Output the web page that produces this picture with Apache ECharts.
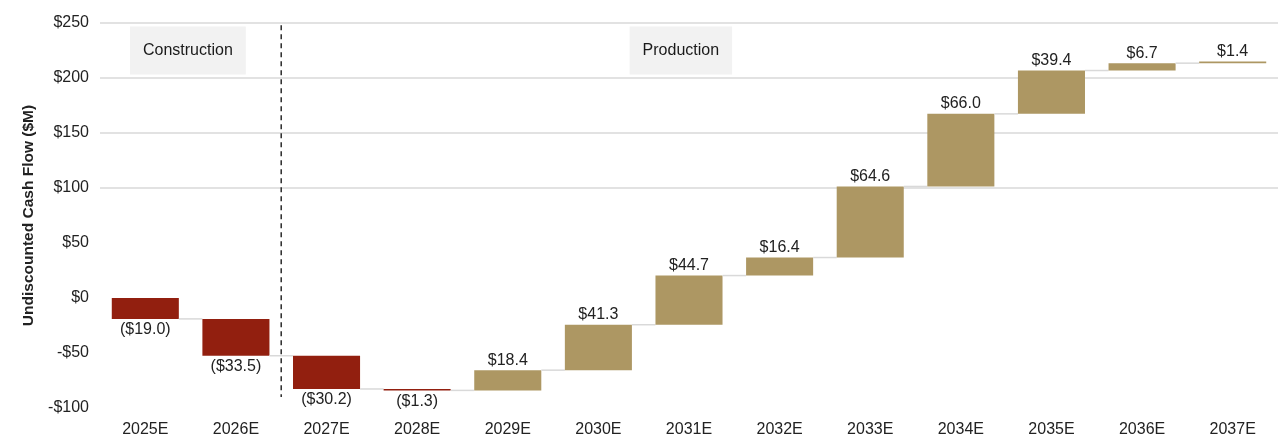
<!DOCTYPE html>
<html>
<head>
<meta charset="utf-8">
<script src="https://cdn.jsdelivr.net/npm/echarts@6/dist/echarts.min.js"></script>
<style>
html,body{margin:0;padding:0;background:#fff;}
#chart{width:1278px;height:439px;}
</style>
</head>
<body>
<div id="chart"></div>
<script>
const categories = ['2025E','2026E','2027E','2028E','2029E','2030E','2031E','2032E','2033E','2034E','2035E','2036E','2037E'];
const cashFlows = [-19.0, -33.5, -30.2, -1.3, 18.4, 41.3, 44.7, 16.4, 64.6, 66.0, 39.4, 6.7, 1.4];
const phaseLabels = ['Construction', 'Production'];
const phasePositions = [0.47, 5.91];   // category-axis positions of the phase tags
const phaseDivider = 1.5;               // between 2026E and 2027E
const yMin = -100, yMax = 250, yStep = 50;

const RED = '#921f0f', TAN = '#ad9763', TXT = '#222222';
const FONT = "'Liberation Sans', Arial, sans-serif";

// waterfall rows: [index, start, end, value]
const rows = [];
let run = 0;
cashFlows.forEach((v, i) => { rows.push([i, run, run + v, v]); run += v; });

function money(v) {
  const s = '$' + Math.abs(v).toFixed(1);
  return v < 0 ? '(' + s + ')' : s;
}

const chart = echarts.init(document.getElementById('chart'), null, {renderer: 'canvas'});
chart.setOption({
  animation: false,
  textStyle: {fontFamily: FONT},
  grid: {left: 100, right: -5, top: 23, bottom: 31, containLabel: false},
  xAxis: [{
    type: 'category',
    data: categories,
    axisLine: {show: false},
    axisTick: {show: false},
    axisLabel: {color: TXT, fontSize: 16, margin: 14, fontFamily: FONT},
    splitLine: {show: false}
  }, {
    type: 'value', min: -0.5, max: categories.length - 0.5, show: false
  }],
  yAxis: {
    type: 'value',
    min: yMin, max: yMax, interval: yStep,
    name: 'Undiscounted Cash Flow ($M)',
    nameLocation: 'middle',
    nameGap: 63,
    nameTextStyle: {fontWeight: 'bold', fontSize: 15.5, color: TXT, fontFamily: FONT},
    axisLine: {show: false},
    axisTick: {show: false},
    axisLabel: {
      color: TXT, fontSize: 16, margin: 11, fontFamily: FONT,
      formatter: v => (v < 0 ? '-$' + Math.abs(v) : '$' + v)
    },
    splitLine: {
      show: true,
      lineStyle: {
        width: 1.5,
        color: ['rgba(0,0,0,0)','rgba(0,0,0,0)','rgba(0,0,0,0)','rgba(0,0,0,0)','#d9d9d9','#d9d9d9','#d9d9d9','#d9d9d9']
      }
    }
  },
  series: [{
    type: 'custom',
    xAxisIndex: 0,
    data: rows,
    encode: {x: 0, y: [1, 2]},
    renderItem: function (params, api) {
      const i = api.value(0), s = api.value(1), e = api.value(2), v = api.value(3);
      const p1 = api.coord([i, s]), p2 = api.coord([i, e]);
      const step = api.size([1, 0])[0];
      const bw = step * 0.74;
      const top = Math.min(p1[1], p2[1]);
      const h = Math.max(Math.abs(p1[1] - p2[1]), 0.8);
      const children = [{
        type: 'rect',
        shape: {x: p1[0] - bw / 2, y: top, width: bw, height: h},
        style: {fill: v < 0 ? RED : TAN}
      }];
      if (i < categories.length - 1) {
        children.push({
          type: 'line',
          shape: {x1: p1[0] + bw / 2, y1: p2[1], x2: p1[0] + step - bw / 2, y2: p2[1]},
          style: {stroke: '#d9d9d9', lineWidth: 1.5}
        });
      }
      children.push({
        type: 'text',
        x: p1[0],
        y: v >= 0 ? top - 2 : top + h + 3,
        style: {
          text: money(v),
          fill: TXT,
          font: '16px ' + FONT,
          align: 'center',
          verticalAlign: v >= 0 ? 'bottom' : 'top'
        }
      });
      return {type: 'group', children: children};
    },
    z: 3
  }, {
    type: 'line',
    xAxisIndex: 1,
    data: [[phaseDivider, 248], [phaseDivider, -90]],
    symbol: 'none',
    lineStyle: {color: '#333', width: 1.6, type: [5, 4]},
    silent: true,
    z: 2
  }, {
    type: 'scatter',
    xAxisIndex: 1,
    data: phaseLabels.map((t, k) => [phasePositions[k], 225, t]),
    symbolSize: 1,
    itemStyle: {color: '#f2f2f2', opacity: 1},
    silent: true,
    label: {
      show: true,
      position: 'inside',
      formatter: p => p.data[2],
      color: '#1a1a1a',
      fontSize: 16,
      fontFamily: FONT,
      backgroundColor: '#f2f2f2',
      padding: [16, 13]
    },
    z: 4
  }]
});
</script>
</body>
</html>
